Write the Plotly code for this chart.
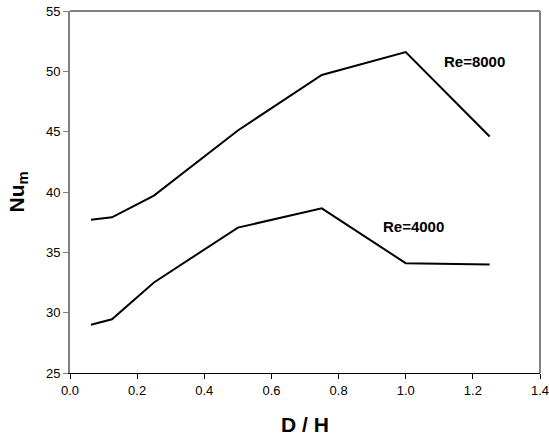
import plotly.graph_objects as go

d_over_h = [0.0625, 0.125, 0.25, 0.5, 0.75, 1.0, 1.25]
nu_re8000 = [37.7, 37.9, 39.7, 45.1, 49.7, 51.6, 44.6]
nu_re4000 = [29.0, 29.45, 32.5, 37.05, 38.65, 34.1, 34.0]

x_ticks = [0.0, 0.2, 0.4, 0.6, 0.8, 1.0, 1.2, 1.4]
y_ticks = [25, 30, 35, 40, 45, 50, 55]

FONT = "Liberation Sans, Arial, sans-serif"

fig = go.Figure()
fig.add_trace(go.Scatter(x=d_over_h, y=nu_re8000, mode="lines",
                         line=dict(color="black", width=2), name="Re=8000",
                         showlegend=False))
fig.add_trace(go.Scatter(x=d_over_h, y=nu_re4000, mode="lines",
                         line=dict(color="black", width=2), name="Re=4000",
                         showlegend=False))

fig.add_annotation(x=1.206, y=50.85, xref="x", yref="y", text="<b>Re=8000</b>",
                   showarrow=False, font=dict(family=FONT, size=15, color="black"))
fig.add_annotation(x=1.022, y=37.1, xref="x", yref="y", text="<b>Re=4000</b>",
                   showarrow=False, font=dict(family=FONT, size=15, color="black"))

fig.update_layout(
    width=549, height=441,
    margin=dict(l=70, r=9, t=11, b=68),
    paper_bgcolor="white", plot_bgcolor="white",
    font=dict(family=FONT, size=13, color="black"),
    xaxis=dict(range=[0, 1.4], tickvals=x_ticks,
               ticktext=[f"{v:.1f}" for v in x_ticks],
               ticklabeloverflow="allow", automargin=False,
               showgrid=False, zeroline=False,
               showline=True, linecolor="black", linewidth=1,
               ticks="outside", ticklen=5, tickcolor="black",
               title=dict(text="<b>D / H</b>", font=dict(size=21), standoff=20)),
    yaxis=dict(range=[25, 55], tickvals=y_ticks, automargin=False,
               showgrid=False, zeroline=False,
               showline=True, linecolor="#808080", linewidth=2,
               ticks="outside", ticklen=5, tickcolor="#808080",
               title=dict(text="<b>Nu<sub>m</sub></b>", font=dict(size=21), standoff=16)),
    shapes=[
        dict(type="line", xref="paper", yref="paper", x0=0, x1=1, y0=1, y1=1,
             line=dict(color="#808080", width=2)),
        dict(type="line", xref="paper", yref="paper", x0=1, x1=1, y0=0, y1=1,
             line=dict(color="#808080", width=2)),
    ],
)

fig.write_html("out.html")
